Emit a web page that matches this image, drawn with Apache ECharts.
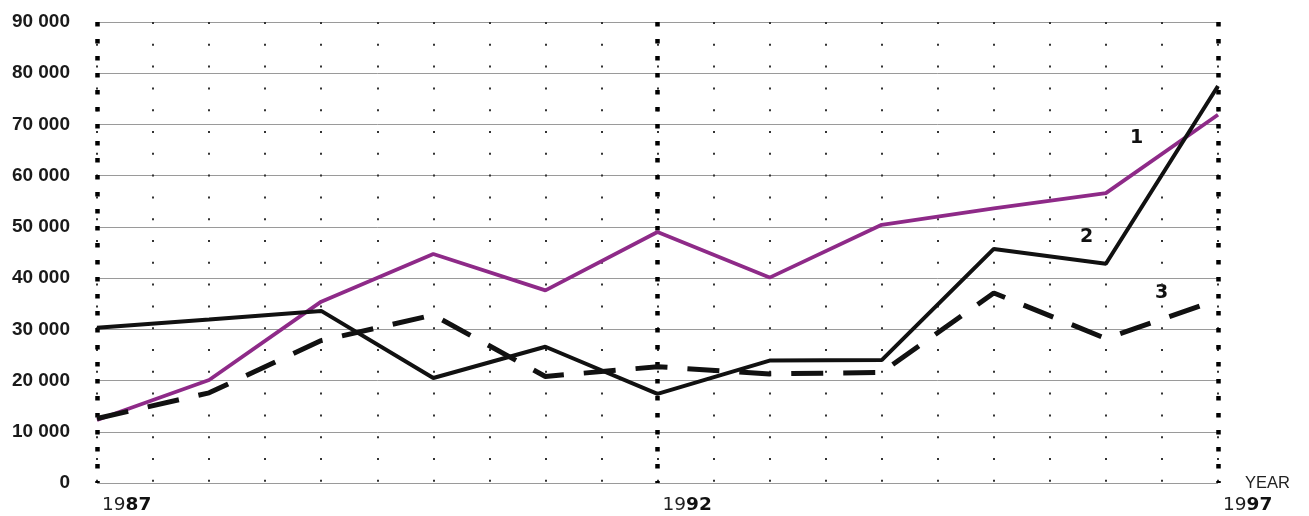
<!DOCTYPE html>
<html>
<head>
<meta charset="utf-8">
<script src="https://cdn.jsdelivr.net/npm/echarts@6/dist/echarts.min.js"></script>
<style>
html,body{margin:0;padding:0;background:#fff;}
#c{width:1309px;height:516px;}
</style>
</head>
<body>
<div id="c"></div>
<script>
// ---- data ----
const years = [1987, 1988, 1989, 1990, 1991, 1992, 1993, 1994, 1995, 1996, 1997];
const series1 = [12300, 20100, 35400, 44700, 37600, 49000, 40100, 50400, 53600, 56600, 71900];
const series2 = [30300, 31900, 33600, 20500, 26600, 17400, 23900, 24000, 45700, 42800, 77500];
const series3 = [12600, 17600, 27800, 32800, 20800, 22700, 21300, 21600, 37100, 28200, 35800];
const xTickYears = [1987, 1992, 1997];
const yTicks = [0, 10000, 20000, 30000, 40000, 50000, 60000, 70000, 80000, 90000];
const yTickLabels = ['0', '10 000', '20 000', '30 000', '40 000', '50 000', '60 000', '70 000', '80 000', '90 000'];
const seriesNames = ['1', '2', '3'];

const pairs = arr => years.map((y, i) => [y, arr[i]]);

const chart = echarts.init(document.getElementById('c'), null, {renderer: 'canvas'});
const grid = {left: 97, right: 91, top: 22, bottom: 33};
const FONT = 'Liberation Sans, Arial, sans-serif';
const XFONT = 'DejaVu Sans, Liberation Sans, sans-serif';

chart.setOption({
  backgroundColor: '#ffffff',
  animation: false,
  grid: grid,
  xAxis: [
    {
      type: 'value', min: 1987, max: 1997, interval: 5,
      position: 'bottom',
      axisLine: {show: false}, axisTick: {show: false},
      splitLine: {show: true, lineStyle: {color: '#000', width: 4.5, type: [4.5, 12.5], cap: 'butt'}},
      axisLabel: {
        show: true, margin: 13, align: 'left', padding: [0, 0, 0, 5],
        showMinLabel: true, showMaxLabel: true,
        formatter: v => {
          if (xTickYears.indexOf(v) < 0) return '';
          const s = String(v);
          return '{a|' + s.slice(0, 2) + '}{b|' + s.slice(2) + '}';
        },
        rich: {
          a: {fontFamily: XFONT, fontSize: 18.5, color: '#222'},
          b: {fontFamily: XFONT, fontSize: 18.5, fontWeight: 'bold', color: '#111'}
        }
      },
      z: 1
    },
    {
      type: 'value', min: 1987, max: 1997, interval: 0.5,
      position: 'bottom',
      axisLine: {show: false}, axisTick: {show: false}, axisLabel: {show: false},
      splitLine: {show: true, lineStyle: {color: '#333', width: 2, type: [2, 19.8], cap: 'butt'}},
      name: 'YEAR', nameLocation: 'end', nameGap: 27,
      nameTextStyle: {fontFamily: FONT, fontSize: 16.5, color: '#222', padding: [0, 0, 10, 0]},
      z: 0
    }
  ],
  yAxis: {
    type: 'value', min: 0, max: 90000, interval: 10000,
    axisLine: {show: false}, axisTick: {show: false},
    axisLabel: {
      margin: 27,
      fontFamily: FONT, fontSize: 19, fontWeight: 'bold', color: '#1a1a1a',
      formatter: v => { const i = yTicks.indexOf(v); return i >= 0 ? yTickLabels[i] : ''; }
    },
    splitLine: {show: true, lineStyle: {color: '#9a9a9a', width: 1}}
  },
  series: [
    {
      name: seriesNames[0], type: 'line', xAxisIndex: 0, data: pairs(series1),
      symbol: 'none', lineStyle: {color: '#8e2a88', width: 3.8}, z: 3
    },
    {
      name: seriesNames[1], type: 'line', xAxisIndex: 0, data: pairs(series2),
      symbol: 'none', lineStyle: {color: '#111', width: 4}, z: 4
    },
    {
      name: seriesNames[2], type: 'line', xAxisIndex: 0, data: pairs(series3),
      symbol: 'none', lineStyle: {color: '#111', width: 5, type: [32, 20], cap: 'butt'}, z: 5
    }
  ],
  graphic: [
    {type: 'text', left: 1130, top: 129, style: {text: seriesNames[0], font: 'bold 19px DejaVu Sans, sans-serif', fill: '#111'}},
    {type: 'text', left: 1080, top: 228, style: {text: seriesNames[1], font: 'bold 19px DejaVu Sans, sans-serif', fill: '#111'}},
    {type: 'text', left: 1155, top: 284, style: {text: seriesNames[2], font: 'bold 19px DejaVu Sans, sans-serif', fill: '#111'}}
  ]
});
</script>
</body>
</html>
